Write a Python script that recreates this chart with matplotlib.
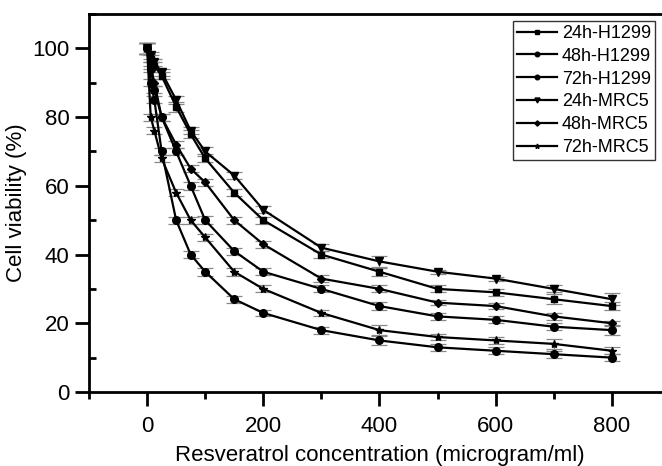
import numpy as np
import matplotlib
matplotlib.use("Agg")
import matplotlib.pyplot as plt
from matplotlib.ticker import MultipleLocator

# resveratrol concentrations (microgram/ml)
conc = [0, 6.25, 12.5, 25, 50, 75, 100, 150, 200, 300, 400, 500, 600, 700, 800]

labels = ["24h-H1299", "48h-H1299", "72h-H1299", "24h-MRC5", "48h-MRC5", "72h-MRC5"]
markers = ["s", "o", "o", "v", "D", "*"]
msizes = [5, 5.5, 5.5, 6, 4.5, 6]

h1299_24 = [100, 97, 95, 92, 83, 75, 68, 58, 50, 40, 35, 30, 29, 27, 25]
h1299_48 = [100, 94, 88, 80, 70, 60, 50, 41, 35, 30, 25, 22, 21, 19, 18]
h1299_72 = [100, 90, 85, 70, 50, 40, 35, 27, 23, 18, 15, 13, 12, 11, 10]
mrc5_24 = [100, 98, 96, 93, 85, 76, 70, 63, 53, 42, 38, 35, 33, 30, 27]
mrc5_48 = [100, 95, 90, 80, 72, 65, 61, 50, 43, 33, 30, 26, 25, 22, 20]
mrc5_72 = [100, 80, 76, 68, 58, 50, 45, 35, 30, 23, 18, 16, 15, 14, 12]

# error bars (sd)
err_h24 = [1.5, 1, 1, 1, 1.5, 1.2, 1.2, 1, 1, 1, 1.2, 1, 1, 1.5, 1.2]
err_h48 = [1.5, 1, 1, 1, 1, 1.2, 1.2, 1, 1, 1, 1.2, 1, 1, 1, 1.5]
err_h72 = [1.5, 1, 1, 1, 1, 1, 1.2, 1, 1, 1, 1.2, 1, 1, 1, 1]
err_m24 = [1.5, 1, 1, 1, 1.2, 1, 1.2, 1, 1, 1, 1.5, 0.6, 0.6, 1, 1.8]
err_m48 = [1.5, 1, 1, 1, 1, 1, 1, 1, 1, 1, 1, 0.8, 0.8, 1, 0.8]
err_m72 = [1.5, 1, 1, 1, 1, 1, 1, 1.2, 1, 1, 1.5, 0.8, 1, 1.5, 1]

series = [h1299_24, h1299_48, h1299_72, mrc5_24, mrc5_48, mrc5_72]
errors = [err_h24, err_h48, err_h72, err_m24, err_m48, err_m72]

plt.rcParams['font.family'] = ['Liberation Sans', 'DejaVu Sans']

fig = plt.figure(figsize=(6.62, 4.66), dpi=100)
ax = fig.add_axes([89 / 662, 74 / 466, 581 / 662, 378 / 466])

for y, e, lab, m, ms in zip(series, errors, labels, markers, msizes):
    ax.errorbar(conc, y, yerr=e, color="black", marker=m, markersize=ms,
                linewidth=1.6, ecolor="#888888", elinewidth=0.9, capsize=6,
                capthick=0.9, label=lab)

ax.set_xlim(-100, 900)
ax.set_ylim(0, 110)
ax.xaxis.set_major_locator(MultipleLocator(200))
ax.xaxis.set_minor_locator(MultipleLocator(100))
ax.yaxis.set_major_locator(MultipleLocator(20))
ax.yaxis.set_minor_locator(MultipleLocator(10))
ax.set_xticks([0, 200, 400, 600, 800])

for s in ax.spines.values():
    s.set_linewidth(2)

ax.tick_params(axis="x", which="major", direction="out", length=10, width=2,
               labelsize=16, pad=7)
ax.tick_params(axis="x", which="minor", direction="out", length=5, width=2)
ax.tick_params(axis="y", which="major", direction="out", length=10, width=2,
               labelsize=16, pad=4)
ax.tick_params(axis="y", which="minor", direction="in", length=5, width=2)

ax.set_xlabel("Resveratrol concentration (microgram/ml)", fontsize=16, labelpad=6)
ax.set_ylabel("Cell viability (%)", fontsize=16, labelpad=4)

# legend without the error bars
handles, labs = ax.get_legend_handles_labels()
handles = [h[0] for h in handles]
leg = ax.legend(handles, labs, loc="upper left", bbox_to_anchor=(0.724, 0.99),
                fontsize=13, frameon=True, fancybox=False, handlelength=2.2,
                handletextpad=0.3, labelspacing=0.32, borderpad=0.2,
                borderaxespad=0.2, markerscale=0.6)
leg.get_frame().set_edgecolor("black")
leg.get_frame().set_linewidth(1)

fig.savefig("out.png", dpi=100)
